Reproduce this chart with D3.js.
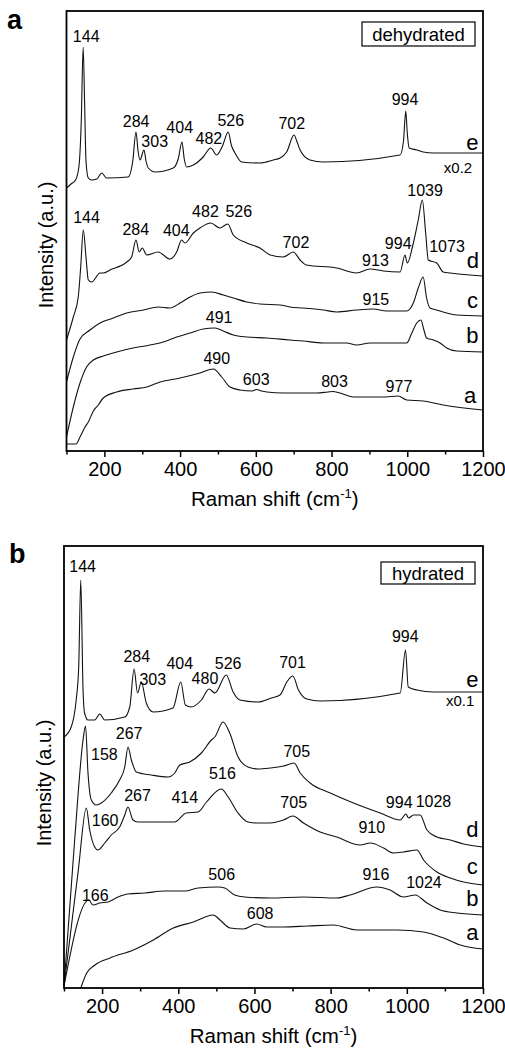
<!DOCTYPE html>
<html>
<head>
<meta charset="utf-8">
<script src="https://cdn.jsdelivr.net/npm/d3@7"></script>
<style>
  body { margin: 0; background: #fff; }
  svg { display: block; }
  text { font-family: "Liberation Sans", Arial, Helvetica, sans-serif; fill: #000; }
</style>
</head>
<body>
<svg id="fig" width="505" height="1049"></svg>
<script>
// ---- axis ticks (Raman shift, cm-1) ----
const majorTicks = [200, 400, 600, 800, 1000, 1200];
const minorTicks = [100, 300, 500, 700, 900, 1100];
const shiftDomain = [100, 1200];

// ---- spectra: [Raman shift (cm-1), intensity (a.u., offset stacked)] ----
// dehydrated
const dehydA = [[100,7],[125,7],[135.7,14],[149,24],[157.6,29],[171,40],[184,46],[197,53],[232.6,59],[276,62],[312,64],[347,69],[400,73],[452.5,78],[488,82],[510,74],[532,64],[558.6,61],[590,60],[602,61.5],[615,60],[629,59],[672.5,58],[761,58],[790,59],[804.6,59.5],[830,57],[857,54],[936.6,54],[976,55],[998.5,51],[1042,50],[1095,46],[1200,41]];
const dehydB = [[100,14],[118,44],[135.7,68],[153,84],[171,91],[197,95],[232.6,99],[276,103],[320.5,106],[355.6,109],[391,114],[426.5,118],[461,122],[492,123],[514,120],[540.5,116],[576,114],[629,113],[690,111],[725,110],[778,108],[840,108],[866,106],[901.6,108],[945.6,108],[998.5,108],[1012,118],[1025,128],[1036,131],[1044,121],[1051,113],[1069,111],[1086.6,108],[1104,103],[1130.5,100],[1200,99]];
const dehydC = [[100,69],[118,94],[135.7,112],[162,121],[188.5,128],[223.6,133],[259,138],[303,141],[342,144],[373,143],[400,148],[426.5,154],[452.5,158],[483.5,159],[514,156],[540.5,153],[576,149],[611,147],[664,146],[690,144],[725,143],[778,141],[813.6,139],[866,141],[910,142],[945.6,140],[998.5,140],[1016,148],[1029,163],[1042,174],[1051,153],[1060,143],[1077.7,141],[1104,138],[1130.5,136],[1200,135]];
const dehydD = [[100,111],[118,134],[131,154],[137.5,184],[144.4,221],[151.5,194],[157.6,171],[166.5,169],[188.5,178],[197,178],[215,181],[259,189],[272,194],[283.5,211],[292,199],[300,203],[312,196],[342,199],[373,192],[391,199],[404,211],[413,208],[435,218],[452.5,223],[481,228],[505,223],[526,227],[540.5,216],[576,208],[611,203],[638,196],[672.5,194],[699,199],[717,191],[734,186],[813.6,183],[866,178],[901.6,182],[936.6,180],[981,179],[994,196],[1000,188],[1016,208],[1029,231],[1039.7,251],[1048.6,218],[1055.5,191],[1077.7,188],[1095,179],[1113,178],[1200,175]];
const dehydE = [[100,263],[112,267],[124,271],[133,285],[139,330],[144,404],[148,345],[151.5,290],[157.6,273],[166.5,271],[180,272],[193,278],[206,273],[263,274],[275,290],[283.5,319],[289,300],[294,291],[304.7,301],[310,290],[316,283],[334,279],[382,283],[395,292],[405,309],[411,292],[417.5,284],[435,286],[461,294],[481,303],[496.7,296],[512,305],[527,319],[536,305],[545,298],[562.7,289],[611,288],[646,291],[664,293],[681.5,299],[701,316],[709,309],[717,301],[743,291],[778,289],[981,296],[990,310],[996,340],[1000,318],[1005,303],[1025,301],[1042,299],[1069,298],[1200,298]];

// hydrated
const hydA = [[144,0],[159.6,15],[181.4,23],[220.8,30],[282,38],[334.6,48],[387,60],[439.7,66],[492,73],[509.6,68],[536,60],[571,59],[606,64],[632,61],[676,61],[740,62],[807.4,63],[869,58],[974,58],[1044,56],[1096.6,50],[1140.5,43],[1200,39]];
const hydB = [[100,2],[165,88],[176,83],[194,85],[215.6,86],[242,91],[268,94],[312,95],[364.5,97],[417,97],[452,100],[504.6,101],[522,100],[548,93],[574.7,91],[641,90],[728.6,91],[816,90],[851,93],[921.5,101],[956,98],[991,91],[1022,93],[1052.8,85],[1087.7,78],[1131.6,75],[1200,73]];
const hydC = [[100,2],[137.6,118],[158.6,180],[167.5,158],[180.6,141],[189,138],[207,145],[224,153],[246,161],[259.5,173],[268,181],[281,168],[294,166],[347,166],[390.8,166],[421,175],[452,176],[474,186],[513,199],[531,191],[557,175],[583,166],[609.6,165],[641,165],[676,168],[700.8,172],[728.6,165],[772.5,156],[816,151],[877.6,143],[904,145],[939,140],[965,135],[991,136],[1026.5,138],[1044,128],[1079,116],[1114,110],[1149,106],[1200,103]];
const hydD = [[100,2],[128,148],[150,248],[156.5,262],[163,215],[171.7,188],[184.9,183],[198,185],[224,195],[246,208],[259.5,221],[268,241],[276.8,228],[290,216],[329,213],[373,211],[390.8,215],[404,223],[430,226],[460.7,235],[487,248],[496,251],[517.7,266],[535,255],[557,231],[583,221],[609.6,219],[641,220],[676,222],[704,225],[720,215],[746,205],[799,195],[860,185],[930,175],[982.7,168],[997.6,174],[1004.5,170],[1017.6,173],[1035,173],[1052.8,158],[1079,151],[1114,148],[1149,144],[1200,141]];
const hydE = [[100,251],[119,261],[132,288],[138.6,321],[144,408],[150,298],[154,275],[163,268],[180.6,268],[194,274],[207,268],[259.5,271],[272.6,281],[284,319],[293,295],[303,306],[316,285],[334,276],[386,280],[406.6,306],[418.6,283],[434,281],[460.7,288],[481,299],[496,295],[526,313],[544,296],[561.6,288],[609.6,286],[644.6,290],[667,293],[685,306],[700.8,312],[715.5,298],[737.6,289],[772.5,287],[982.7,295],[996.6,338],[1003.7,301],[1026.5,298],[1070,296],[1200,296]];

// ---- peak annotations: [text, shift, intensity] ----
const dehydPeaks = [
  ["144",152,409],["284",284,324],["303",333,304],["404",399,318],["482",476,307],["526",534,325],["702",695,322],["994",994,346],
  ["144",153,228],["284",283,216],["404",390,215],["482",467,234],["526",555,234],["702",706,203],["913",916,185],["994",976,202],["1039",1047,255],["1073",1105,199],
  ["915",917,146],["491",503,128],["490",497,87],["603",601,66],["803",808,64],["977",978,59]
];
const hydPeaks = [
  ["144",149,416],["284",291,326],["303",333,303],["404",404,319],["480",470,304],["526",531,319],["701",700,320],["994",996,346],
  ["267",271,249],["158",206,228],["705",711,231],["994",980,180],["1028",1070,181],
  ["516",516,209],["267",293,187],["414",417,185],["160",208,162],["705",703,180],["910",908,155],
  ["506",514,108],["916",919,108],["1024",1045,100],["166",182,87],["608",615,69]
];

// ---- trace letters and scale notes: [text, shift, intensity] ----
const traceNames = ["a", "b", "c", "d", "e"];
const dehydNamePos = [[1166,48],[1172,108],[1172,143],[1173,183],[1172,301]];
const hydNamePos = [[1172,48],[1172,82],[1172,114],[1172,151],[1172,301]];
const dehydNote = ["x0.2", 1134, 278];
const hydNote = ["x0.1", 1140, 282];

// ---- figure layout ----
const panels = [
  { letter: "a", tag: "dehydrated", series: [dehydA, dehydB, dehydC, dehydD, dehydE],
    peaks: dehydPeaks, names: dehydNamePos, note: dehydNote,
    left: 66.5, right: 483, top: 11, bottom: 451, ymax: 440,
    ylabelX: 53, ylabelY: 245, letterX: 7, letterY: 29, tagW: 113, tagH: 24, tagTop: 22 },
  { letter: "b", tag: "hydrated", series: [hydA, hydB, hydC, hydD, hydE],
    peaks: hydPeaks, names: hydNamePos, note: hydNote,
    left: 64, right: 483, top: 546, bottom: 988, ymax: 442,
    ylabelX: 51, ylabelY: 783, letterX: 9, letterY: 563, tagW: 94, tagH: 22, tagTop: 562 }
];

const svg = d3.select("#fig");

panels.forEach(p => {
  const x = d3.scaleLinear().domain(shiftDomain).range([p.left, p.right]);
  const y = d3.scaleLinear().domain([0, p.ymax]).range([p.bottom, p.top]);
  const g = svg.append("g");

  const line = d3.line()
    .x(d => x(d[0]))
    .y(d => y(d[1]))
    .curve(d3.curveMonotoneX);

  // spectra
  g.selectAll("path.spec")
    .data(p.series)
    .join("path")
    .attr("class", "spec")
    .attr("d", line)
    .attr("fill", "none")
    .attr("stroke", "#111")
    .attr("stroke-width", 1.1)
    .attr("stroke-linejoin", "round");

  // frame
  g.append("rect")
    .attr("x", p.left).attr("y", p.top)
    .attr("width", p.right - p.left).attr("height", p.bottom - p.top)
    .attr("fill", "none").attr("stroke", "#000").attr("stroke-width", 1.8);

  // bottom axis: labelled majors, short minors, pointing outward
  const axMajor = d3.axisBottom(x).tickValues(majorTicks).tickSize(6).tickPadding(5)
    .tickFormat(d3.format("d"));
  const axG = g.append("g").attr("transform", `translate(0,${p.bottom})`).call(axMajor);
  axG.select(".domain").remove();
  axG.selectAll(".tick line").attr("stroke", "#000").attr("stroke-width", 1.5);
  axG.selectAll(".tick text")
    .attr("font-size", 20)
    .attr("font-family", '"Liberation Sans", Arial, sans-serif')
    .attr("fill", "#000");

  const axMinor = d3.axisBottom(x).tickValues(minorTicks).tickSize(3.5).tickFormat("");
  const axMinG = g.append("g").attr("transform", `translate(0,${p.bottom})`).call(axMinor);
  axMinG.select(".domain").remove();
  axMinG.selectAll(".tick line").attr("stroke", "#000").attr("stroke-width", 1.5);

  // x title
  const xt = g.append("text")
    .attr("x", (p.left + p.right) / 2)
    .attr("y", p.bottom + 55)
    .attr("text-anchor", "middle")
    .attr("font-size", 20.5);
  xt.append("tspan").text("Raman shift (cm");
  xt.append("tspan").text("-1").attr("font-size", 13).attr("dy", -8);
  xt.append("tspan").text(")").attr("dy", 8);

  // y title
  g.append("text")
    .attr("transform", `translate(${p.ylabelX},${p.ylabelY}) rotate(-90)`)
    .attr("text-anchor", "middle")
    .attr("font-size", 20)
    .text("Intensity (a.u.)");

  // panel letter
  g.append("text")
    .attr("x", p.letterX).attr("y", p.letterY)
    .attr("font-size", 27).attr("font-weight", "bold")
    .text(p.letter);

  // condition tag box
  const tagLeft = p.right - 8 - p.tagW;
  g.append("rect")
    .attr("x", tagLeft).attr("y", p.tagTop)
    .attr("width", p.tagW).attr("height", p.tagH)
    .attr("fill", "#fff").attr("stroke", "#000").attr("stroke-width", 1.2);
  g.append("text")
    .attr("x", tagLeft + p.tagW / 2)
    .attr("y", p.tagTop + p.tagH / 2 + 6.5)
    .attr("text-anchor", "middle")
    .attr("font-size", 18.5)
    .text(p.tag);

  // peak labels
  g.selectAll("text.peak")
    .data(p.peaks)
    .join("text")
    .attr("class", "peak")
    .attr("x", d => x(d[1]))
    .attr("y", d => y(d[2]))
    .attr("text-anchor", "middle")
    .attr("font-size", 16)
    .text(d => d[0]);

  // trace letters
  g.selectAll("text.trace")
    .data(p.names)
    .join("text")
    .attr("class", "trace")
    .attr("x", d => x(d[0]))
    .attr("y", d => y(d[1]))
    .attr("text-anchor", "middle")
    .attr("font-size", 22)
    .text((d, i) => traceNames[i]);

  // scale factor note on trace e
  g.append("text")
    .attr("x", x(p.note[1]))
    .attr("y", y(p.note[2]))
    .attr("text-anchor", "middle")
    .attr("font-size", 15)
    .text(p.note[0]);
});
</script>
</body>
</html>
